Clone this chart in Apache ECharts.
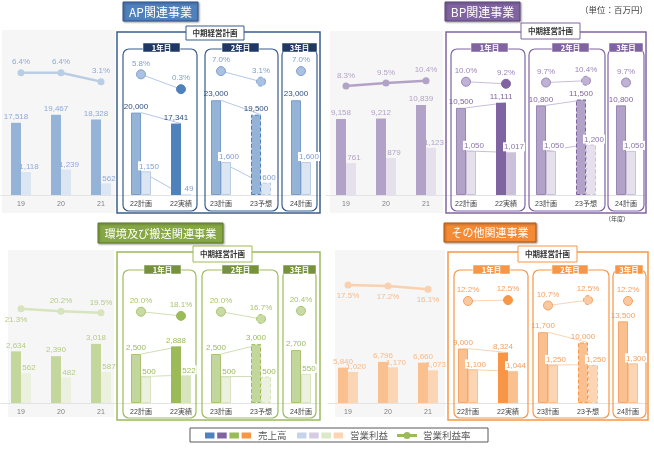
<!DOCTYPE html>
<html>
<head>
<meta charset="utf-8">
<script src="https://cdn.jsdelivr.net/npm/echarts@6/dist/echarts.min.js"></script>
<style>
  html, body { margin: 0; padding: 0; background: #fff; }
  #chart { width: 654px; height: 451px; }
</style>
</head>
<body>
<div id="chart"></div>
<script>
// 年度
const years = ['19', '20', '21', '22計画', '22実績', '23計画', '23予想', '24計画'];

// AP関連事業
const apSales = [17518, 19467, 18328, 20000, 17341, 23000, 19500, 23000];
const apProfit = [1118, 1239, 562, 1150, 49, 1600, 600, 1600];
const apRate = [6.4, 6.4, 3.1, 5.8, 0.3, 7.0, 3.1, 7.0];

// BP関連事業
const bpSales = [9158, 9212, 10839, 10500, 11111, 10800, 11500, 10800];
const bpProfit = [761, 879, 1123, 1050, 1017, 1050, 1200, 1050];
const bpRate = [8.3, 9.5, 10.4, 10.0, 9.2, 9.7, 10.4, 9.7];

// 環境及び搬送関連事業
const envSales = [2634, 2390, 3018, 2500, 2888, 2500, 3000, 2700];
const envProfit = [562, 482, 587, 500, 522, 500, 500, 550];
const envRate = [21.3, 20.2, 19.5, 20.0, 18.1, 20.0, 16.7, 20.4];

// その他関連事業
const othSales = [5840, 6796, 6660, 9000, 8324, 11700, 10000, 13500];
const othProfit = [1020, 1170, 1073, 1100, 1044, 1250, 1250, 1300];
const othRate = [17.5, 17.2, 16.1, 12.2, 12.5, 10.7, 12.5, 12.2];

const FONT = "'Liberation Sans','Noto Sans CJK JP',sans-serif";
const JP = "'Noto Sans CJK JP',sans-serif";
const NUM = 8;

const Y1 = [3, 4], Y2 = [5, 6], Y3 = [7];

const panels = [
  {
    title: 'AP関連事業', sales: apSales, profit: apProfit, rate: apRate,
    left: 1, top: 30, h: 165, salesPx: 0.00412, profitPx: 0.0206, ratePx: 2.7, rateZero: 90,
    titleBox: [123, 2, 75, 19, 12], bg: [2, 30, 113, 183], frame: [117, 32, 203, 181], tag: [186, 26, 58, 14],
    boxes: [[123, 49, 74, 162], [205, 49, 73, 162], [282, 49, 35, 162]],
    heads: [[143, 43, 37], [222, 43, 37], [282, 43, 35]],
    histRatePos: ['top', 'top', 'top'],
    c: {
      dark: '#4F81BD', mid: '#95B3D7', midBorder: '#7A9CCB', light: '#DCE6F2', lightBorder: '#B9CDE5',
      actProfit: '#DCE6F2', line: '#B9CDE5', histLabel: '#8EAADB', planLabel: '#2F4F7F', profitLabel: '#7F9FD0',
      rateLabel: '#7F9FD0', rateDot: '#A9C1E3', connector: '#B4C7E7', frame: '#385D8A', header: '#1F3864',
      title: '#4F81BD', titleBorder: '#2F528F'
    }
  },
  {
    title: 'BP関連事業', sales: bpSales, profit: bpProfit, rate: bpRate,
    left: 326, top: 30, h: 165, salesPx: 0.0083, profitPx: 0.042, ratePx: 2.5, rateZero: 106.75,
    titleBox: [445, 2, 75, 19, 12], bg: [330, 31, 113, 182], frame: [446, 32, 200, 181], tag: [521, 23, 59, 16],
    boxes: [[451, 49, 74, 162], [529, 49, 76, 162], [608, 49, 36, 162]],
    heads: [[471, 43, 37], [552, 43, 37], [609, 43, 34]],
    histRatePos: ['top', 'top', 'top'],
    c: {
      dark: '#8064A2', mid: '#B3A2C7', midBorder: '#9B86B8', light: '#E6E0EC', lightBorder: '#CCC1DA',
      actProfit: '#CCC1DA', line: '#B3A2C7', histLabel: '#B3A2C7', planLabel: '#8064A2', profitLabel: '#8B76A9',
      rateLabel: '#9B86B8', rateDot: '#C0B2D4', connector: '#C9BEDB', frame: '#8064A2', header: '#8064A2',
      title: '#8064A2', titleBorder: '#5F497A'
    }
  },
  {
    title: '環境及び搬送関連事業', sales: envSales, profit: envProfit, rate: envRate,
    left: 1, top: 250, h: 153, salesPx: 0.0196, profitPx: 0.053, ratePx: 2.2, rateZero: 355.7,
    titleBox: [98, 223, 125, 20, 11.2], bg: [8, 250, 106, 167], frame: [117, 252, 203, 168], tag: [193, 246, 59, 16],
    boxes: [[123, 270, 73, 148], [202, 270, 76, 148], [283, 270, 33, 148]],
    heads: [[144, 265, 37], [222, 265, 37], [283, 265, 33]],
    histRatePos: ['bottom', 'top', 'top'],
    c: {
      dark: '#9BBB59', mid: '#C3D69B', midBorder: '#A9C470', light: '#EBF1DE', lightBorder: '#D7E4BD',
      actProfit: '#D7E4BD', line: '#D7E4BD', histLabel: '#B5CC86', planLabel: '#9BBB59', profitLabel: '#9BBB59',
      rateLabel: '#A9C470', rateDot: '#C9DBA5', connector: '#D0DFB3', frame: '#9BBB59', header: '#76923C',
      title: '#86A744', titleBorder: '#5E7A2B'
    }
  },
  {
    title: 'その他関連事業', sales: othSales, profit: othProfit, rate: othRate,
    left: 328, top: 250, h: 153, salesPx: 0.00605, profitPx: 0.0305, ratePx: 3.0, rateZero: 337.6,
    titleBox: [444, 223, 92, 19, 11], bg: [335, 250, 110, 167], frame: [448, 252, 200, 168], tag: [518, 246, 59, 16],
    boxes: [[454, 270, 74, 148], [533, 270, 76, 148], [613, 270, 33, 148]],
    heads: [[473, 265, 37], [552, 265, 36], [615, 265, 28]],
    histRatePos: ['bottom', 'bottom', 'bottom'],
    c: {
      dark: '#F79646', mid: '#FAC090', midBorder: '#F5A66A', light: '#FCD5B5', lightBorder: '#FAC090',
      actProfit: '#FAC090', line: '#FBD0AE', histLabel: '#F9B98A', planLabel: '#F5A060', profitLabel: '#F5A060',
      rateLabel: '#F5A060', rateDot: '#FBC9A0', connector: '#FBD3B3', frame: '#F79646', header: '#F79646',
      title: '#F58A36', titleBorder: '#B65708'
    }
  }
];

function only(arr, keep) {
  return arr.map((v, k) => keep.indexOf(k) >= 0 ? v : '-');
}

const grids = [], xAxes = [], yAxes = [], series = [], graphics = [];

function rect(x, y, w, h, style, r, z) {
  graphics.push({ type: 'rect', z: z || 0, silent: true, shape: { x: x, y: y, width: w, height: h, r: r || 0 }, style: style });
}
function text(x, y, str, size, color, weight, align) {
  graphics.push({
    type: 'text', z: 10, silent: true, x: x, y: y,
    style: { text: str, fill: color, font: (weight || 'normal') + ' ' + size + 'px ' + JP, align: align || 'center', verticalAlign: 'middle' }
  });
}

panels.forEach((p, i) => {
  const c = p.c;
  const base = p.top + p.h;
  grids.push({ left: p.left, top: p.top, width: 320, height: p.h });
  xAxes.push({
    type: 'category', gridIndex: i,
    data: years.map((y, k) => ({ value: y, textStyle: { color: k < 3 ? '#7f7f7f' : '#404040' } })),
    axisTick: { show: false },
    axisLine: { lineStyle: { color: '#e3e3e3', width: 1 } },
    axisLabel: { fontSize: 7, margin: 6, fontFamily: FONT, interval: 0 }
  });
  yAxes.push(
    { type: 'value', gridIndex: i, show: false, min: 0, max: p.h / p.salesPx },
    { type: 'value', gridIndex: i, show: false, min: 0, max: p.h / p.profitPx },
    { type: 'value', gridIndex: i, show: false, min: -(base - p.rateZero) / p.ratePx, max: (p.rateZero - p.top) / p.ratePx }
  );
  const ys = i * 3, yp = i * 3 + 1, yr = i * 3 + 2;

  // 計画と実績・予想を結ぶ線
  [Y1, Y2].forEach(seg => {
    series.push({ type: 'line', xAxisIndex: i, yAxisIndex: ys, data: only(p.sales, seg), symbol: 'none', silent: true, z: 1, lineStyle: { width: 1, color: c.connector } });
    series.push({ type: 'line', xAxisIndex: i, yAxisIndex: yp, data: only(p.profit, seg), symbol: 'none', silent: true, z: 1, lineStyle: { width: 1, color: c.connector } });
  });

  // 売上高
  series.push({
    type: 'bar', xAxisIndex: i, yAxisIndex: ys, barWidth: 10, barGap: '0%', z: 2,
    data: p.sales.map((v, k) => {
      let st;
      if (k < 3) st = { color: c.mid };
      else if (k === 4) st = { color: c.dark };
      else if (k === 6) st = { color: c.mid, borderColor: c.dark, borderWidth: 1, borderType: 'dashed' };
      else st = { color: c.mid, borderColor: c.midBorder, borderWidth: 1 };
      return {
        value: v, itemStyle: st,
        label: { show: true, position: 'top', distance: 2, fontSize: NUM, fontFamily: FONT, color: k < 3 ? c.histLabel : c.planLabel, formatter: d => d.value.toLocaleString('en-US') }
      };
    })
  });

  // 営業利益
  series.push({
    type: 'bar', xAxisIndex: i, yAxisIndex: yp, barWidth: 10, barGap: '0%', z: 2,
    data: p.profit.map((v, k) => {
      let st;
      if (k < 3) st = { color: c.light };
      else if (k === 4) st = { color: c.actProfit };
      else if (k === 6) st = { color: c.light, borderColor: c.lightBorder, borderWidth: 1, borderType: 'dashed' };
      else st = { color: c.light, borderColor: c.lightBorder, borderWidth: 1 };
      return {
        value: v, itemStyle: st,
        label: {
          show: true, position: 'top', distance: 1, offset: [3, 0], fontSize: NUM, fontFamily: FONT,
          color: k < 3 ? c.histLabel : c.profitLabel,
          backgroundColor: k < 3 ? 'transparent' : '#fff', padding: [1, 1, 0, 1],
          formatter: d => d.value.toLocaleString('en-US')
        }
      };
    })
  });

  // 営業利益率 (19〜21)
  series.push({
    type: 'line', xAxisIndex: i, yAxisIndex: yr, z: 3,
    data: p.rate.map((v, k) => k < 3 ? {
      value: v,
      label: { position: p.histRatePos[k], offset: (p.histRatePos[k] === 'bottom' && i === 2) ? [-5, 0] : [0, 0] }
    } : '-'),
    symbol: 'circle', symbolSize: 7,
    lineStyle: { width: 2.5, color: c.line }, itemStyle: { color: c.line },
    label: { show: true, distance: 3, fontSize: NUM, fontFamily: FONT, color: c.histLabel, formatter: d => d.value.toFixed(1) + '%' }
  });

  // 営業利益率 (中期経営計画)
  [Y1, Y2, Y3].forEach(seg => {
    series.push({
      type: 'line', xAxisIndex: i, yAxisIndex: yr, z: 3,
      data: p.rate.map((v, k) => {
        if (seg.indexOf(k) < 0) return '-';
        let st = { color: c.rateDot, borderColor: c.rateLabel, borderWidth: 1 };
        if (k === 4) st = { color: c.dark, borderColor: c.dark, borderWidth: 1 };
        if (k === 6) st = { color: c.rateDot, borderColor: c.rateLabel, borderWidth: 1, borderType: 'dashed' };
        return { value: v, itemStyle: st };
      }),
      symbol: 'circle', symbolSize: 9,
      lineStyle: { width: 1, color: c.connector },
      label: { show: true, position: 'top', distance: 2, fontSize: NUM, fontFamily: FONT, color: c.rateLabel, formatter: d => d.value.toFixed(1) + '%' }
    });
  });

  // 枠・見出し
  rect(p.bg[0], p.bg[1], p.bg[2], p.bg[3], { fill: '#f6f6f6' }, 0, -1);
  rect(p.frame[0], p.frame[1], p.frame[2], p.frame[3], { fill: 'none', stroke: c.frame, lineWidth: 1.5 }, 0, 1);
  p.boxes.forEach(b => rect(b[0], b[1], b[2], b[3], { fill: 'none', stroke: c.frame, lineWidth: 1.2 }, 6, 1));
  ['1年目', '2年目', '3年目'].forEach((t, k) => {
    const hd = p.heads[k];
    rect(hd[0], hd[1], hd[2], 9, { fill: c.header, stroke: '#fff', lineWidth: 0.5 }, 0, 5);
    text(hd[0] + hd[2] / 2, hd[1] + 4.7, t, 7.5, '#fff', 'bold');
  });
  rect(p.tag[0], p.tag[1], p.tag[2], p.tag[3], { fill: '#fff', stroke: c.frame, lineWidth: 1 }, 0, 5);
  text(p.tag[0] + p.tag[2] / 2, p.tag[1] + p.tag[3] / 2, '中期経営計画', 7.5, '#333', 'bold');
  const tb = p.titleBox;
  rect(tb[0], tb[1], tb[2], tb[3], { fill: c.title, stroke: c.titleBorder, lineWidth: 1, shadowBlur: 2, shadowColor: 'rgba(0,0,0,0.35)', shadowOffsetX: 1, shadowOffsetY: 1 }, 0, 5);
  text(tb[0] + tb[2] / 2, tb[1] + tb[3] / 2 + 0.5, p.title, tb[4], '#fff', 'normal');
});

text(614, 10, '（単位：百万円）', 8.5, '#404040');
text(617, 219, '（年度）', 6, '#404040');

// 凡例
rect(190, 428, 298, 14, { fill: '#fff', stroke: '#595959', lineWidth: 1 }, 0, 5);
['#4F81BD', '#8064A2', '#9BBB59', '#F79646'].forEach((col, k) => rect(205 + k * 12.2, 432.5, 9.5, 6, { fill: col }, 0, 6));
text(258, 435.5, '売上高', 9.5, '#595959', 'normal', 'left');
['#C5D4EA', '#D5CCE2', '#DCE8C8', '#FCD5B5'].forEach((col, k) => rect(297 + k * 12.2, 432.5, 9.5, 6, { fill: col }, 0, 6));
text(350, 435.5, '営業利益', 9.5, '#595959', 'normal', 'left');
graphics.push({ type: 'line', z: 6, silent: true, shape: { x1: 397, y1: 435.5, x2: 417, y2: 435.5 }, style: { stroke: '#9BBB59', lineWidth: 3 } });
graphics.push({ type: 'circle', z: 7, silent: true, shape: { cx: 407, cy: 435.5, r: 3.5 }, style: { fill: '#9BBB59' } });
text(423, 435.5, '営業利益率', 9.5, '#595959', 'normal', 'left');

const chart = echarts.init(document.getElementById('chart'));
chart.setOption({
  animation: false,
  textStyle: { fontFamily: FONT },
  grid: grids,
  xAxis: xAxes,
  yAxis: yAxes,
  series: series,
  graphic: { elements: graphics }
});
</script>
</body>
</html>
